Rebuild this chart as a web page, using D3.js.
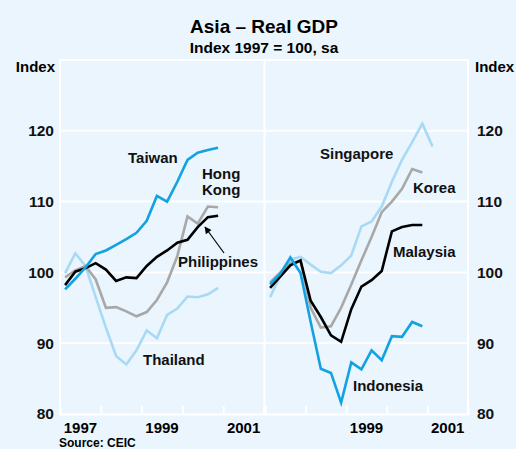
<!DOCTYPE html>
<html>
<head>
<meta charset="utf-8">
<script src="https://cdn.jsdelivr.net/npm/d3@7"></script>
<style>
    body { margin: 0; background: #eaf5fd; }
    svg { display: block; font-family: "Liberation Sans", Arial, sans-serif; font-weight: bold; }
    .lbl { font-size: 15px; fill: #111; }
    .tick text { font-size: 15.5px; fill: #111; font-weight: bold; }
</style>
</head>
<body>
<svg id="chart" width="516" height="449"></svg>
<script>
// quarterly, 1997Q1 .. 2001Q1
const quarters = ["1997Q1", "1997Q2", "1997Q3", "1997Q4", "1998Q1", "1998Q2", "1998Q3", "1998Q4",
    "1999Q1", "1999Q2", "1999Q3", "1999Q4", "2000Q1", "2000Q2", "2000Q3", "2000Q4", "2001Q1"];

// left panel
const taiwan = [97.6, 99.1, 100.7, 102.6, 103.1, 103.9, 104.7, 105.6, 107.3, 110.8, 110.0, 112.8, 115.9, 116.9, 117.3, 117.6];
const hongKong = [99.3, 100.3, 100.9, 99.0, 95.0, 95.1, 94.5, 93.8, 94.4, 96.1, 98.6, 102.3, 107.9, 106.9, 109.3, 109.2];
const philippines = [98.2, 100.1, 100.6, 101.3, 100.4, 98.8, 99.3, 99.2, 100.9, 102.2, 103.1, 104.2, 104.6, 106.4, 107.8, 108.0];
const thailand = [99.9, 102.7, 100.9, 96.5, 92.2, 88.2, 87.0, 89.0, 91.8, 90.7, 94.0, 94.9, 96.6, 96.5, 96.9, 97.8];

// right panel
const singapore = [96.5, 99.5, 101.8, 102.2, 101.1, 100.1, 99.9, 101.0, 102.4, 106.5, 107.2, 109.3, 112.8, 115.9, 118.4, 121.0, 117.8];
const korea = [98.6, 100.0, 101.3, 101.6, 95.0, 92.2, 92.4, 95.0, 98.3, 101.7, 105.0, 108.5, 110.0, 111.8, 114.6, 114.1];
const malaysia = [97.8, 99.4, 101.0, 101.7, 96.0, 93.7, 91.1, 90.2, 94.8, 98.0, 98.9, 100.2, 105.8, 106.4, 106.7, 106.7];
const indonesia = [98.3, 99.8, 102.1, 99.9, 93.0, 86.4, 85.8, 81.6, 87.3, 86.3, 89.0, 87.6, 91.0, 90.9, 93.0, 92.4];

const yTicks = [80, 90, 100, 110, 120];
const yearTicks = [1997, 1998, 1999, 2000, 2001, 2002];
const leftYearLabels = [1997, 1999, 2001];
const rightYearLabels = [1999, 2001];

const BLUE = "#12a2e2", LIGHT = "#a9daf5", GREY = "#a8a8a8", BLACK = "#000";

// "1998Q3" -> mid-quarter as decimal year
function qPos(q) {
    return +q.slice(0, 4) + (+q.slice(5) - 0.5) / 4;
}

const svg = d3.select("#chart");
const plotTop = 60, plotBottom = 414;

let y = d3.scaleLinear().domain([80, 130]).range([plotBottom, plotTop]);
let xLeft = d3.scaleLinear().domain([1997, 2002]).range([60, 264]);
let xRight = d3.scaleLinear().domain([1997, 2002]).range([265, 468]);

svg.append("rect").attr("width", 516).attr("height", 449).attr("fill", "#eaf5fd");

// title
svg.append("text").attr("x", 264).attr("y", 33).attr("text-anchor", "middle")
    .style("font-size", "19px").text("Asia – Real GDP");
svg.append("text").attr("x", 264).attr("y", 53).attr("text-anchor", "middle")
    .style("font-size", "15.5px").text("Index 1997 = 100, sa");

// gridlines + frame
let grid = svg.append("g").attr("stroke", "#fff").attr("stroke-width", 2);
grid.selectAll("line.h")
    .data(yTicks.slice(1).concat([130]))
    .enter().append("line")
    .attr("x1", 60).attr("x2", 468)
    .attr("y1", d => y(d)).attr("y2", d => y(d));
grid.append("line").attr("x1", 60).attr("x2", 60).attr("y1", plotTop - 1).attr("y2", plotBottom + 1);
grid.append("line").attr("x1", 468).attr("x2", 468).attr("y1", plotTop - 1).attr("y2", plotBottom + 1);
grid.append("line").attr("x1", 264.5).attr("x2", 264.5).attr("y1", plotTop).attr("y2", plotBottom);

// x axes (ticks pointing into the plot)
function xAxis(scale) {
    let g = svg.append("g")
        .attr("transform", "translate(0," + plotBottom + ")")
        .call(d3.axisBottom(scale).tickValues(yearTicks).tickSize(-8).tickFormat(""));
    g.select(".domain").attr("stroke", "#fff").attr("stroke-width", 2);
    g.selectAll(".tick line").attr("stroke", "#fff").attr("stroke-width", 2);
}
xAxis(xLeft);
xAxis(xRight);

svg.selectAll("text.yl")
    .data(leftYearLabels)
    .enter().append("text")
    .attr("x", d => xLeft(d + 0.5)).attr("y", 432.5)
    .attr("text-anchor", "middle").style("font-size", "15px")
    .text(d => d);
svg.selectAll("text.yr")
    .data(rightYearLabels)
    .enter().append("text")
    .attr("x", d => xRight(d + 0.5)).attr("y", 432.5)
    .attr("text-anchor", "middle").style("font-size", "15px")
    .text(d => d);

// y axes
let yl = svg.append("g").attr("transform", "translate(60,0)")
    .call(d3.axisLeft(y).tickValues(yTicks).tickSize(0).tickPadding(6));
yl.select(".domain").remove();
let yr = svg.append("g").attr("transform", "translate(468,0)")
    .call(d3.axisRight(y).tickValues(yTicks).tickSize(0).tickPadding(9));
yr.select(".domain").remove();
svg.selectAll("g").attr("font-family", null);

svg.append("text").attr("x", 55).attr("y", 72).attr("text-anchor", "end")
    .style("font-size", "15px").text("Index");
svg.append("text").attr("x", 475).attr("y", 72)
    .style("font-size", "15px").text("Index");

// lines
function drawLine(values, xs, colour) {
    let line = d3.line()
        .x((d, i) => xs(qPos(quarters[i])))
        .y(d => y(d));
    svg.append("path")
        .datum(values)
        .attr("d", line)
        .attr("fill", "none")
        .attr("stroke", colour)
        .attr("stroke-width", 2.6)
        .attr("stroke-linejoin", "miter");
}

drawLine(thailand, xLeft, LIGHT);
drawLine(hongKong, xLeft, GREY);
drawLine(philippines, xLeft, BLACK);
drawLine(taiwan, xLeft, BLUE);

drawLine(singapore, xRight, LIGHT);
drawLine(korea, xRight, GREY);
drawLine(malaysia, xRight, BLACK);
drawLine(indonesia, xRight, BLUE);

// series labels
function label(x, y, txt) {
    svg.append("text").attr("class", "lbl").attr("x", x).attr("y", y).text(txt);
}
label(128, 163, "Taiwan");
label(202, 179, "Hong");
label(202, 195, "Kong");
label(178, 267, "Philippines");
label(143, 365, "Thailand");
label(320, 159, "Singapore");
label(413, 193, "Korea");
label(393, 257, "Malaysia");
label(353, 391, "Indonesia");

// arrow to Philippines line
svg.append("defs").append("marker")
    .attr("id", "head")
    .attr("viewBox", "0 0 10 10")
    .attr("refX", 9).attr("refY", 5)
    .attr("markerWidth", 9).attr("markerHeight", 7)
    .attr("markerUnits", "userSpaceOnUse")
    .attr("orient", "auto")
    .append("path").attr("d", "M0,0 L10,5 L0,10 z").attr("fill", "#000");
svg.append("line")
    .attr("x1", 224).attr("y1", 253).attr("x2", 205).attr("y2", 227)
    .attr("stroke", "#000").attr("stroke-width", 1.2)
    .attr("marker-end", "url(#head)");

svg.append("text").attr("x", 59).attr("y", 447)
    .style("font-size", "12px").text("Source: CEIC");
</script>
</body>
</html>
